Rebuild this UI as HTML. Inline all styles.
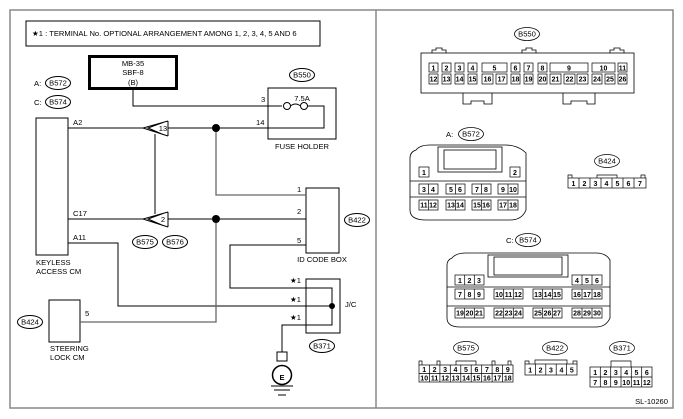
<!DOCTYPE html>
<html><head><meta charset="utf-8"><style>
html,body{margin:0;padding:0;background:#fff}
svg{display:block}
text{font-family:"Liberation Sans",sans-serif;font-size:7.6px;fill:#000}
.c text{font-size:7px;text-anchor:middle;font-weight:bold}
</style></head><body>
<svg width="683" height="419" viewBox="0 0 683 419" xmlns="http://www.w3.org/2000/svg">
<g fill="none" stroke="#888" stroke-width="1.5">
<rect x="10" y="10" width="663" height="398"/>
<line x1="376" y1="10" x2="376" y2="408"/>
</g>
<!-- LEFT -->
<rect x="26" y="21" width="294" height="25" fill="none" stroke="#000"/>
<text x="32" y="36">★1 : TERMINAL No. OPTIONAL ARRANGEMENT AMONG 1, 2, 3, 4, 5 AND 6</text>
<rect x="89.5" y="56.5" width="87" height="32" fill="none" stroke="#000" stroke-width="3"/>
<g text-anchor="middle"><text x="133" y="66">MB-35</text><text x="133" y="75">SBF-8</text><text x="133" y="85">(B)</text></g>
<g fill="none" stroke="#000" stroke-width="1">
<ellipse cx="302" cy="75" rx="12.5" ry="6.5"/>
<ellipse cx="58" cy="83" rx="12.5" ry="6.5"/>
<ellipse cx="58" cy="102" rx="12.5" ry="6.5"/>
<ellipse cx="145" cy="242" rx="12.5" ry="6.5"/>
<ellipse cx="175" cy="242" rx="12.5" ry="6.5"/>
<ellipse cx="357" cy="220" rx="12.5" ry="6.5"/>
<ellipse cx="30" cy="322" rx="12.5" ry="6.5"/>
<ellipse cx="322" cy="346" rx="12.5" ry="6.5"/>
<rect x="268" y="88" width="68" height="51"/>
<rect x="36" y="118" width="32" height="137"/>
<rect x="306" y="188" width="33" height="65"/>
<rect x="306" y="279" width="34" height="54"/>
<rect x="49" y="300" width="31" height="42"/>
</g>
<g font-size="7" text-anchor="middle">
<text x="302" y="77.5">B550</text><text x="58" y="85.5">B572</text><text x="58" y="104.5">B574</text>
<text x="145" y="244.5">B575</text><text x="175" y="244.5">B576</text><text x="357" y="222.5">B422</text>
<text x="30" y="324.5">B424</text><text x="322" y="348.5">B371</text>
</g>
<text x="34" y="86">A:</text><text x="34" y="105">C:</text>
<text x="302" y="101" text-anchor="middle">7.5A</text>
<text x="302" y="149" text-anchor="middle">FUSE HOLDER</text>
<text x="261" y="102">3</text><text x="256" y="125">14</text>
<text x="73" y="125">A2</text><text x="73" y="216">C17</text><text x="73" y="240">A11</text>
<text x="297" y="192">1</text><text x="297" y="214">2</text><text x="297" y="243">5</text>
<text x="322" y="262" text-anchor="middle">ID CODE BOX</text>
<text x="36" y="265">KEYLESS</text><text x="36" y="274">ACCESS CM</text>
<text x="50" y="351">STEERING</text><text x="50" y="360">LOCK CM</text>
<text x="85" y="316">5</text>
<text x="290" y="283">★1</text><text x="290" y="302">★1</text><text x="290" y="320">★1</text>
<text x="345" y="307">J/C</text>
<g fill="none" stroke="#000" stroke-width="1">
<polyline points="133,89 133,106 282,106"/>
<circle cx="287" cy="106" r="3.5"/><path d="M290.5,106 q5,-4 10,0"/><circle cx="304" cy="106" r="3.5"/>
<polyline points="307.5,106 324,106 324,128 268,128"/>
<line x1="68" y1="128" x2="143" y2="128"/><line x1="168" y1="128" x2="268" y2="128"/>
<line x1="68" y1="219" x2="143" y2="219"/><line x1="168" y1="219" x2="306" y2="219"/>
<line x1="155" y1="134" x2="155" y2="214"/>
<polyline points="68,243 118,243 118,306 332,306"/>
<polyline points="306,245 230,245 230,288 332,288 332,325 282,325 282,352"/>
<polyline points="80,322 216,322 216,219" stroke="#666" stroke-width="1.3"/>
<polyline points="216,128 216,195 306,195" stroke="#666" stroke-width="1.3"/>
<path d="M168,121 L143,128 L168,136 M168,121 L168,136 M163,122.5 L148,128 L163,134.5"/>
<path d="M168,212 L143,219 L168,227 M168,212 L168,227 M163,213.5 L148,219 L163,225.5"/>
<rect x="277" y="352" width="10" height="9"/>
<circle cx="282" cy="375" r="9.5" stroke-width="1.5"/>
<line x1="271" y1="386" x2="293" y2="386"/><line x1="274" y1="390" x2="290" y2="390"/><line x1="278" y1="395" x2="286" y2="395"/>
</g>
<text x="282" y="380" text-anchor="middle" font-size="14" font-weight="bold">E</text>
<text x="163" y="131" text-anchor="middle">13</text><text x="163" y="222" text-anchor="middle">2</text>
<circle cx="216" cy="128" r="4"/><circle cx="216" cy="219" r="4"/><circle cx="332" cy="306" r="3"/>

<!-- RIGHT: B550 -->
<g fill="none" stroke="#000" stroke-width="0.8">
<ellipse cx="527" cy="34" rx="12.5" ry="6.5"/>
<rect x="421" y="53" width="213" height="40"/>
<path d="M432,53 v-3 h4 v-2 h6 v2 h4 v3 M522,53 v-3 h4 v-2 h6 v2 h4 v3 M610,53 v-3 h4 v-2 h6 v2 h4 v3"/>
<path d="M463,93 v11 h8 v-3 h13 v3 h8 v-11 M563,93 v11 h8 v-3 h16 v3 h8 v-11"/>
</g>
<text x="527" y="36.5" font-size="7" text-anchor="middle">B550</text>
<g fill="none" stroke="#000" stroke-width="0.7">
<rect x="429" y="63" width="9" height="9"/><rect x="442" y="63" width="9" height="9"/><rect x="455" y="63" width="9" height="9"/><rect x="468" y="63" width="9" height="9"/>
<rect x="482" y="63" width="25" height="9"/><rect x="511" y="63" width="9" height="9"/><rect x="524" y="63" width="9" height="9"/><rect x="538" y="63" width="9" height="9"/>
<rect x="550" y="63" width="38" height="9"/><rect x="592" y="63" width="23" height="9"/><rect x="618" y="63" width="9" height="9"/>
<rect x="429" y="74" width="9" height="10"/><rect x="442" y="74" width="9" height="10"/><rect x="455" y="74" width="9" height="10"/><rect x="468" y="74" width="9" height="10"/>
<rect x="482" y="74" width="11" height="10"/><rect x="496" y="74" width="11" height="10"/><rect x="511" y="74" width="9" height="10"/><rect x="524" y="74" width="9" height="10"/><rect x="538" y="74" width="9" height="10"/>
<rect x="550" y="74" width="11" height="10"/><rect x="564" y="74" width="11" height="10"/><rect x="577" y="74" width="11" height="10"/>
<rect x="592" y="74" width="10" height="10"/><rect x="605" y="74" width="10" height="10"/><rect x="618" y="74" width="9" height="10"/>
</g>
<g class="c">
<text x="433.5" y="70.5">1</text><text x="446.5" y="70.5">2</text><text x="459.5" y="70.5">3</text><text x="472.5" y="70.5">4</text><text x="494.5" y="70.5">5</text><text x="515.5" y="70.5">6</text><text x="528.5" y="70.5">7</text><text x="542.5" y="70.5">8</text><text x="569" y="70.5">9</text><text x="603.5" y="70.5" font-size="6">10</text><text x="622.5" y="70.5" font-size="6">11</text>
<g font-size="5.8"><text x="433.5" y="81.5">12</text><text x="446.5" y="81.5">13</text><text x="459.5" y="81.5">14</text><text x="472.5" y="81.5">15</text><text x="487.5" y="81.5">16</text><text x="501.5" y="81.5">17</text><text x="515.5" y="81.5">18</text><text x="528.5" y="81.5">19</text><text x="542.5" y="81.5">20</text><text x="555.5" y="81.5">21</text><text x="569.5" y="81.5">22</text><text x="582.5" y="81.5">23</text><text x="597" y="81.5">24</text><text x="610" y="81.5">25</text><text x="622.5" y="81.5">26</text></g>
</g>

<!-- A: B572 -->
<text x="446" y="137">A:</text>
<g fill="none" stroke="#000" stroke-width="0.8">
<ellipse cx="471" cy="134" rx="12.5" ry="6.5"/>
<path d="M416,150 Q420,145 430,145 L505,145 Q518,145 526,153 L526,210 Q522,220 510,220 L426,220 Q410,220 410,210 L410,158 Q410,152 416,150 Z"/>
<rect x="438" y="147" width="64" height="25"/><rect x="444" y="150" width="52" height="19"/>
<line x1="410" y1="181" x2="526" y2="181"/><line x1="410" y1="197" x2="526" y2="197"/>
<g stroke-width="0.7">
<rect x="419" y="167" width="10" height="10"/><rect x="510" y="167" width="10" height="10"/>
<rect x="419" y="184" width="19" height="10"/><rect x="446" y="184" width="19" height="10"/><rect x="472" y="184" width="19" height="10"/><rect x="498" y="184" width="20" height="10"/>
<rect x="419" y="200" width="19" height="10"/><rect x="446" y="200" width="19" height="10"/><rect x="472" y="200" width="19" height="10"/><rect x="498" y="200" width="20" height="10"/>
<path d="M428.5,184v10M455.5,184v10M481.5,184v10M508,184v10M428.5,200v10M455.5,200v10M481.5,200v10M508,200v10"/>
</g></g>
<text x="471" y="136.5" font-size="7" text-anchor="middle">B572</text>
<g class="c">
<text x="424" y="175">1</text><text x="515" y="175">2</text>
<text x="424" y="192">3</text><text x="433" y="192">4</text><text x="451" y="192">5</text><text x="460" y="192">6</text><text x="477" y="192">7</text><text x="486" y="192">8</text><text x="503" y="192">9</text><text x="513" y="192" font-size="5.8">10</text>
<g font-size="5.8"><text x="424" y="207.5">11</text><text x="433" y="207.5">12</text><text x="451" y="207.5">13</text><text x="460" y="207.5">14</text><text x="477" y="207.5">15</text><text x="486" y="207.5">16</text><text x="503" y="207.5">17</text><text x="513" y="207.5">18</text></g>
</g>

<!-- B424 -->
<g fill="none" stroke="#000" stroke-width="0.7">
<ellipse cx="607" cy="161" rx="12.5" ry="6.5"/>
<rect x="568" y="178" width="78" height="10"/>
<path d="M579,178v10M590,178v10M601,178v10M612,178v10M623,178v10M634,178v10M568,178v-3h4v3M597,178v-3h20v3M641,178v-3h4v3"/>
</g>
<text x="607" y="163.5" font-size="7" text-anchor="middle">B424</text>
<g class="c">
<text x="573.5" y="186">1</text><text x="584.5" y="186">2</text><text x="595.5" y="186">3</text><text x="606.5" y="186">4</text><text x="617.5" y="186">5</text><text x="628.5" y="186">6</text><text x="640" y="186">7</text></g>

<!-- C: B574 -->
<text x="506" y="243">C:</text>
<g fill="none" stroke="#000" stroke-width="0.8">
<ellipse cx="528" cy="240" rx="12.5" ry="6.5"/>
<path d="M452,258 Q456,253 466,253 L596,253 Q606,253 610,260 L610,318 Q606,327 596,327 L460,327 Q447,327 447,318 L447,265 Q447,260 452,258 Z"/>
<rect x="488" y="255" width="80" height="22"/><rect x="494" y="257" width="68" height="18"/>
<line x1="447" y1="287" x2="610" y2="287"/><line x1="447" y1="306" x2="610" y2="306"/>
<g stroke-width="0.7">
<rect x="455" y="275" width="29" height="10"/><rect x="572" y="275" width="30" height="10"/>
<rect x="455" y="289" width="29" height="10"/><rect x="494" y="289" width="29" height="10"/><rect x="533" y="289" width="29" height="10"/><rect x="572" y="289" width="30" height="10"/>
<rect x="455" y="308" width="29" height="10"/><rect x="494" y="308" width="29" height="10"/><rect x="533" y="308" width="29" height="10"/><rect x="572" y="308" width="30" height="10"/>
<path d="M464.7,275v10M474.3,275v10M582,275v10M592,275v10M464.7,289v10M474.3,289v10M503.7,289v10M513.3,289v10M542.7,289v10M552.3,289v10M582,289v10M592,289v10M464.7,308v10M474.3,308v10M503.7,308v10M513.3,308v10M542.7,308v10M552.3,308v10M582,308v10M592,308v10"/>
</g></g>
<text x="528" y="242.5" font-size="7" text-anchor="middle">B574</text>
<g class="c">
<text x="460" y="283">1</text><text x="469.5" y="283">2</text><text x="479" y="283">3</text><text x="577" y="283">4</text><text x="587" y="283">5</text><text x="597" y="283">6</text>
<text x="460" y="297">7</text><text x="469.5" y="297">8</text><text x="479" y="297">9</text>
<g font-size="5.8"><text x="499" y="297">10</text><text x="508.5" y="297">11</text><text x="518" y="297">12</text><text x="538" y="297">13</text><text x="547.5" y="297">14</text><text x="557" y="297">15</text><text x="577" y="297">16</text><text x="587" y="297">17</text><text x="597" y="297">18</text>
<text x="460" y="315.5">19</text><text x="469.5" y="315.5">20</text><text x="479" y="315.5">21</text><text x="499" y="315.5">22</text><text x="508.5" y="315.5">23</text><text x="518" y="315.5">24</text><text x="538" y="315.5">25</text><text x="547.5" y="315.5">26</text><text x="557" y="315.5">27</text><text x="577" y="315.5">28</text><text x="587" y="315.5">29</text><text x="597" y="315.5">30</text></g>
</g>

<!-- B575 -->
<g fill="none" stroke="#000" stroke-width="0.7">
<ellipse cx="466" cy="348" rx="12.5" ry="6.5"/>
<rect x="419" y="365" width="94" height="17"/><line x1="419" y1="373.5" x2="513" y2="373.5"/>
<path d="M429.4,365v17M439.9,365v17M450.3,365v17M460.8,365v17M471.2,365v17M481.7,365v17M492.1,365v17M502.6,365v17"/>
<path d="M419,365v-4h3v4M437,365v-4h3v4M456,365v-4h20v4M492,365v-4h3v4M508,365v-4h3v4"/>
</g>
<text x="466" y="350.5" font-size="7" text-anchor="middle">B575</text>
<g class="c">
<text x="424.2" y="372">1</text><text x="434.6" y="372">2</text><text x="445.1" y="372">3</text><text x="455.5" y="372">4</text><text x="466" y="372">5</text><text x="476.4" y="372">6</text><text x="486.9" y="372">7</text><text x="497.3" y="372">8</text><text x="507.8" y="372">9</text>
<g font-size="5.8"><text x="424.2" y="380.5">10</text><text x="434.6" y="380.5">11</text><text x="445.1" y="380.5">12</text><text x="455.5" y="380.5">13</text><text x="466" y="380.5">14</text><text x="476.4" y="380.5">15</text><text x="486.9" y="380.5">16</text><text x="497.3" y="380.5">17</text><text x="507.8" y="380.5">18</text></g></g>

<!-- B422 -->
<g fill="none" stroke="#000" stroke-width="0.7">
<ellipse cx="555" cy="348" rx="12.5" ry="6.5"/>
<rect x="525" y="364" width="52" height="11"/>
<path d="M535.4,364v11M545.8,364v11M556.2,364v11M566.6,364v11M525,364v-3h4v3M535,364v-4h32v4M573,364v-3h4v3"/>
</g>
<text x="555" y="350.5" font-size="7" text-anchor="middle">B422</text>
<g class="c">
<text x="530.2" y="372.5">1</text><text x="540.6" y="372.5">2</text><text x="551" y="372.5">3</text><text x="561.4" y="372.5">4</text><text x="571.8" y="372.5">5</text></g>

<!-- B371 -->
<g fill="none" stroke="#000" stroke-width="0.7">
<ellipse cx="622" cy="348" rx="12.5" ry="6.5"/>
<rect x="590" y="367" width="62" height="20"/><line x1="590" y1="377" x2="652" y2="377"/>
<path d="M600.3,367v20M610.7,367v20M621,367v20M631.3,367v20M641.7,367v20M611,367v-6h20v6"/>
</g>
<text x="622" y="350.5" font-size="7" text-anchor="middle">B371</text>
<g class="c">
<text x="595.2" y="375">1</text><text x="605.5" y="375">2</text><text x="615.8" y="375">3</text><text x="626.2" y="375">4</text><text x="636.5" y="375">5</text><text x="646.8" y="375">6</text>
<text x="595.2" y="385">7</text><text x="605.5" y="385">8</text><text x="615.8" y="385">9</text><text x="626.2" y="385" font-size="6">10</text><text x="636.5" y="385" font-size="6">11</text><text x="646.8" y="385" font-size="6">12</text></g>

<text x="668" y="404" text-anchor="end" font-size="8.5">SL-10260</text>
</svg>
</body></html>
